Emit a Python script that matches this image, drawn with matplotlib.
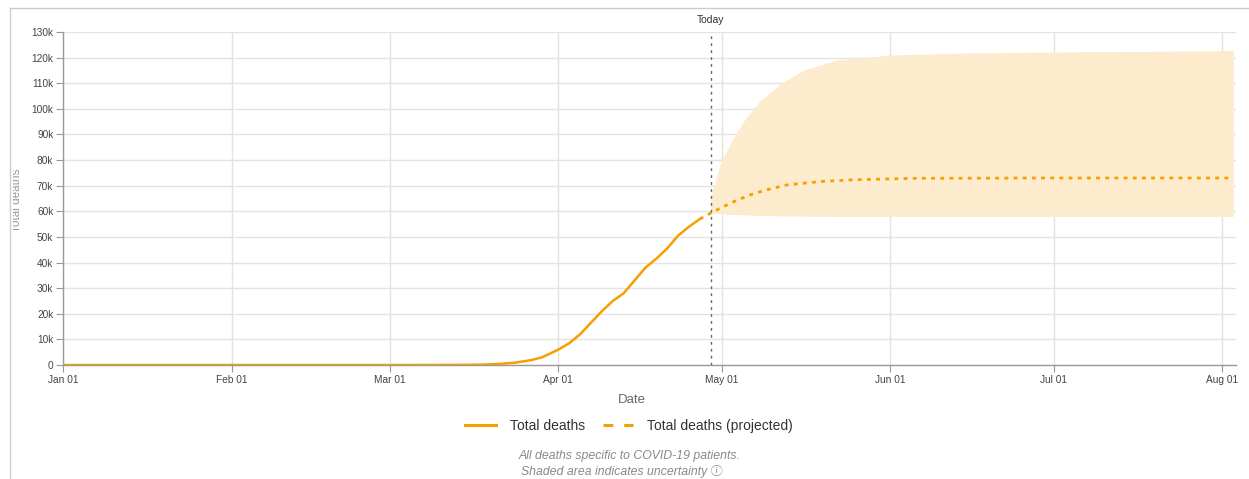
import matplotlib.pyplot as plt
import matplotlib.dates as mdates
from matplotlib.lines import Line2D
from matplotlib.transforms import Bbox, TransformedBbox
import numpy as np

plt.rcParams['font.family'] = ['Liberation Sans', 'DejaVu Sans']

# reported cumulative deaths (thousands)
actual_dates = ['2020-01-01', '2020-02-01', '2020-03-01', '2020-03-10', '2020-03-15',
                '2020-03-18', '2020-03-21', '2020-03-24', '2020-03-27', '2020-03-29',
                '2020-04-01', '2020-04-03', '2020-04-05', '2020-04-07', '2020-04-09',
                '2020-04-11', '2020-04-13', '2020-04-15', '2020-04-17', '2020-04-19',
                '2020-04-21', '2020-04-23', '2020-04-25', '2020-04-27']
actual_k = [0, 0, 0, 0.03, 0.07, 0.15, 0.4, 0.9, 1.9, 3.0,
            6.0, 8.5, 12.0, 16.5, 21.0, 25.0, 28.0, 33.0, 38.0, 41.5,
            45.5, 50.5, 54.0, 57.0]

# projection (thousands)
proj_dates = ['2020-04-27', '2020-04-29', '2020-05-01', '2020-05-04', '2020-05-07',
              '2020-05-10', '2020-05-13', '2020-05-19', '2020-05-25', '2020-06-06',
              '2020-07-01', '2020-08-03']
proj_k = [57.0, 59.3, 61.5, 64.5, 67.0, 68.8, 70.3, 71.6, 72.3, 72.9, 73.0, 73.0]

# uncertainty band (thousands)
band_dates = ['2020-04-29', '2020-05-01', '2020-05-03', '2020-05-05', '2020-05-08',
              '2020-05-12', '2020-05-16', '2020-05-22', '2020-06-01', '2020-06-15',
              '2020-07-01', '2020-08-03']
band_low_k = [59.2, 59.0, 58.8, 58.6, 58.4, 58.2, 58.1, 58.0, 58.0, 58.0, 58.0, 58.0]
band_high_k = [66.0, 80.0, 88.0, 95.0, 103.0, 110.0, 115.0, 119.0, 121.0, 121.8, 122.2, 122.7]

today = '2020-04-29'

month_ticks = ['2020-01-01', '2020-02-01', '2020-03-01', '2020-04-01',
               '2020-05-01', '2020-06-01', '2020-07-01', '2020-08-01']
month_labels = ['Jan 01', 'Feb 01', 'Mar 01', 'Apr 01', 'May 01', 'Jun 01', 'Jul 01', 'Aug 01']
y_ticks_k = list(range(0, 131, 10))

orange = '#f5a000'
band_col = '#fcebcd'
grid_col = '#e3e3e3'
tick_col = '#444444'

def d(lst):
    return np.array(lst, dtype='datetime64[D]')

W, H = 1249, 479
fig = plt.figure(figsize=(W / 100, H / 100), dpi=100)
ax = fig.add_axes([63 / W, (H - 365) / H, 1173 / W, 333 / H])

ax.fill_between(d(band_dates), np.array(band_low_k) * 1000, np.array(band_high_k) * 1000,
                color=band_col, lw=0, zorder=1)
ax.plot(d(actual_dates), np.array(actual_k) * 1000, color=orange, lw=1.8, zorder=4,
        solid_capstyle='round')
ax.plot(d(proj_dates), np.array(proj_k) * 1000, color=orange, lw=2.0, dashes=(1.4, 1.9),
        zorder=4)

ax.axvline(np.datetime64(today), color='#666666', lw=1, dashes=(2, 3), zorder=3)
ax.text(np.datetime64(today), 132600, 'Today', ha='center', va='bottom', fontsize=7.5,
        color='#333333')

ax.set_xlim(np.datetime64('2020-01-01'), np.datetime64('2020-08-03T12:00'))
ax.set_ylim(0, 130000)
ax.set_xticks(d(month_ticks))
ax.set_xticklabels(month_labels)
ax.set_yticks([v * 1000 for v in y_ticks_k])
ax.set_yticklabels(['0' if v == 0 else f'{v}k' for v in y_ticks_k])
ax.tick_params(axis='both', labelsize=7.3, colors=tick_col, length=5, width=0.8, pad=2)
ax.tick_params(axis='both', color='#999999')
ax.grid(True, color=grid_col, lw=1, zorder=0)
ax.set_axisbelow(True)
for s in ['top', 'right']:
    ax.spines[s].set_visible(False)
for s in ['left', 'bottom']:
    ax.spines[s].set_color('#999999')
    ax.spines[s].set_linewidth(1)

fig.text(632 / W, (H - 400) / H, 'Date', ha='center', va='center', fontsize=9.5, color='#666666')

ylab = fig.text(17 / W, (H - 200) / H, 'Total deaths', rotation=90, ha='center', va='center',
                fontsize=8.5, color='#999999')
ylab.set_clip_box(TransformedBbox(Bbox.from_extents(12.5 / W, 0, 1, 1), fig.transFigure))
ylab.set_clip_on(True)

handles = [Line2D([], [], color=orange, lw=2.2),
           Line2D([], [], color=orange, lw=2.2, dashes=(3.2, 3.6))]
fig.legend(handles, ['Total deaths', 'Total deaths (projected)'], loc='center',
           bbox_to_anchor=(629 / W, (H - 426) / H), ncol=2, frameon=False, fontsize=10,
           handlelength=2.2, handletextpad=1.0, columnspacing=1.3, labelcolor='#333333')

fig.text(630 / W, (H - 456) / H, 'All deaths specific to COVID-19 patients.', ha='center',
         va='center', fontsize=8.8, style='italic', color='#888888')
fig.text(622 / W, (H - 472) / H, 'Shaded area indicates uncertainty \u24d8', ha='center',
         va='center', fontsize=8.8, style='italic', color='#888888',
         family=['Liberation Sans', 'Noto Sans CJK SC', 'DejaVu Sans'])

# outer panel border
fig.add_artist(Line2D([10 / W, 1], [(H - 8) / H] * 2, color='#cccccc', lw=1,
                      transform=fig.transFigure))
fig.add_artist(Line2D([10 / W] * 2, [0, (H - 8) / H], color='#cccccc', lw=1,
                      transform=fig.transFigure))

fig.savefig('out.png', dpi=100)
